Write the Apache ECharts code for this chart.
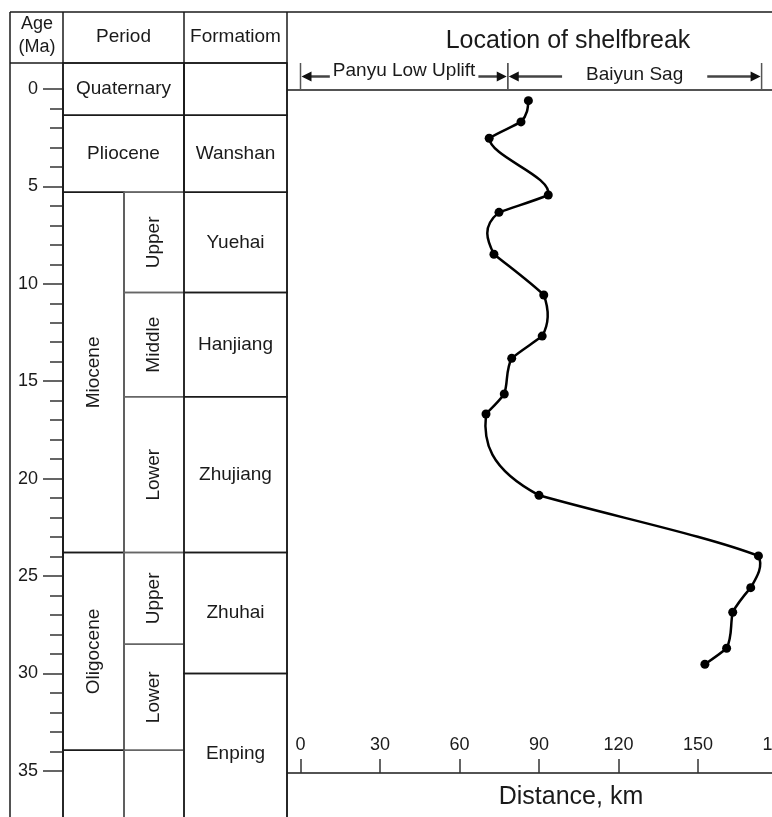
<!DOCTYPE html>
<html>
<head>
<meta charset="utf-8">
<script src="https://cdn.jsdelivr.net/npm/echarts@6/dist/echarts.min.js"></script>
<style>
html, body { margin: 0; padding: 0; background: #fff; }
#chart { width: 772px; height: 817px; }
</style>
</head>
<body>
<div id="chart"></div>
<script>
// Shelfbreak position through time: age (Ma) against distance (km)
const ageMa = [0.60, 1.69, 2.53, 5.44, 6.33, 8.48, 10.57, 12.68, 13.82, 15.65, 16.68, 20.85, 23.96, 25.59, 26.85, 28.70, 29.52];
const distanceKm = [86.0, 83.2, 71.2, 93.5, 74.9, 73.0, 91.8, 91.2, 79.7, 76.9, 70.0, 90.0, 172.8, 169.9, 163.1, 160.8, 152.6];

// Axis ranges [min, max, step]
const distanceRange = [0, 180, 30];
const ageRange = [0, 35, 5];

// Chronostratigraphy (base ages in Ma)
const periodNames = ['Quaternary', 'Pliocene', 'Miocene', 'Oligocene'];
const periodBase = [1.35, 5.3, 23.8, 33.95];
const epochNames = ['Upper', 'Middle', 'Lower', 'Upper', 'Lower'];
const epochPeriod = [2, 2, 2, 3, 3];
const epochBase = [10.45, 15.8, 23.8, 28.5, 33.95];
const formationNames = ['', 'Wanshan', 'Yuehai', 'Hanjiang', 'Zhujiang', 'Zhuhai', 'Enping'];
const formationBase = [1.35, 5.3, 10.45, 15.8, 23.8, 30.0, 38.2];

// Structural units crossed by the profile (km)
const regionNames = ['Panyu Low Uplift', 'Baiyun Sag'];
const regionStartKm = [0, 78.2];
const regionEndKm = [78.2, 174];

// ---- layout ----
const FONT = '"Liberation Sans", Arial, sans-serif';
const INK = '#1a1a1a';
const W = 772, H = 817;
const FRAME_L = 10, AGE_R = 63, SUB_X = 124, PERIOD_R = 184, FORM_R = 287;
const TOP = 12, HEAD_B = 63;
const PLOT_TOP = 89, AXIS_Y = 773, BAND_Y = 90;
const AGE_AXIS_BOTTOM = 770.8;
const TEXT_SIZE = 19;
const regionLabelY = [71, 75];
const regionTextGap = [3, 24];
const CURVE_TENSION = 0.45; // weight of the spline slope against the segment's own chord

// Build column cells from the stratigraphic arrays
const cells = [];
periodNames.forEach((name, i) => {
  const top = i === 0 ? null : periodBase[i - 1];
  const split = epochPeriod.indexOf(i) >= 0;
  cells.push({ x0: AGE_R, x1: split ? SUB_X : PERIOD_R, top, base: periodBase[i], name, rotate: split, stroke: INK });
});
epochNames.forEach((name, i) => {
  const p = epochPeriod[i];
  const top = (i > 0 && epochPeriod[i - 1] === p) ? epochBase[i - 1] : periodBase[p - 1];
  cells.push({ x0: SUB_X, x1: PERIOD_R, top, base: epochBase[i], name, rotate: true, stroke: '#666' });
});
// interval below the oldest period
const oldest = periodBase[periodBase.length - 1];
cells.push({ x0: AGE_R, x1: SUB_X, top: oldest, base: null, name: '', rotate: false, stroke: INK });
cells.push({ x0: SUB_X, x1: PERIOD_R, top: oldest, base: null, name: '', rotate: false, stroke: '#666' });
formationNames.forEach((name, i) => {
  const top = i === 0 ? null : formationBase[i - 1];
  cells.push({ x0: PERIOD_R, x1: FORM_R, top, base: formationBase[i], name, rotate: false, stroke: INK });
});

const measureCtx = document.createElement('canvas').getContext('2d');
function textWidth(str, size) {
  measureCtx.font = size + 'px ' + FONT;
  return measureCtx.measureText(str).width;
}

// Natural cubic spline slopes dx/dy at every knot (pixel space, x as a function of y).
function splineSlopes(pts) {
  const n = pts.length;
  const h = [], M = new Array(n).fill(0);
  for (let i = 0; i < n - 1; i++) h.push(pts[i + 1][1] - pts[i][1]);
  const a = [], b = [], c = [], d = [];
  for (let i = 1; i < n - 1; i++) {
    a.push(h[i - 1]);
    b.push(2 * (h[i - 1] + h[i]));
    c.push(h[i]);
    d.push(6 * ((pts[i + 1][0] - pts[i][0]) / h[i] - (pts[i][0] - pts[i - 1][0]) / h[i - 1]));
  }
  const m = b.length;
  for (let i = 1; i < m; i++) {
    const w = a[i] / b[i - 1];
    b[i] -= w * c[i - 1];
    d[i] -= w * d[i - 1];
  }
  const sol = new Array(m);
  for (let i = m - 1; i >= 0; i--) sol[i] = (d[i] - (i < m - 1 ? c[i] * sol[i + 1] : 0)) / b[i];
  for (let i = 0; i < m; i++) M[i + 1] = sol[i];
  const k = h.map((hh, i) => (pts[i + 1][0] - pts[i][0]) / hh);
  const slopes = [];
  for (let i = 0; i < n; i++) {
    slopes.push(i < n - 1 ? k[i] - h[i] * (2 * M[i] + M[i + 1]) / 6 : k[i - 1] + h[i - 1] * (M[i - 1] + 2 * M[i]) / 6);
  }
  return { slopes, chords: k };
}

function line(x1, y1, x2, y2, color, width) {
  return { type: 'line', shape: { x1, y1, x2, y2 }, style: { stroke: color || INK, lineWidth: width || 1.5 }, silent: true };
}
function label(text, x, y, size) {
  return {
    type: 'text', x, y, silent: true,
    style: { text, fill: INK, font: size + 'px ' + FONT, align: 'center', verticalAlign: 'middle' }
  };
}

const points = ageMa.map((a, i) => [distanceKm[i], a]);

const chart = echarts.init(document.getElementById('chart'), null, { renderer: 'canvas' });

chart.setOption({
  animation: false,
  backgroundColor: '#fff',
  textStyle: { fontFamily: FONT, color: INK },
  grid: [
    { left: 300.5, right: -5.5, top: PLOT_TOP, bottom: H - AXIS_Y, containLabel: false, outerBoundsMode: 'none' },
    { left: AGE_R, width: 1, top: PLOT_TOP, bottom: H - AGE_AXIS_BOTTOM, containLabel: false, outerBoundsMode: 'none' }
  ],
  xAxis: [
    {
      gridIndex: 0, type: 'value',
      min: distanceRange[0], max: distanceRange[1], interval: distanceRange[2],
      axisLine: { show: false, onZero: false },
      axisTick: { show: true, inside: true, length: 14, lineStyle: { color: '#333', width: 1.5 } },
      axisLabel: { inside: true, margin: 19, fontSize: 18, color: INK, fontFamily: FONT, hideOverlap: false },
      splitLine: { show: false },
      name: 'Distance, km', nameLocation: 'middle', nameGap: 12,
      nameTextStyle: { fontSize: 25, color: INK, fontFamily: FONT, padding: [0, 0, 0, 64] }
    },
    { gridIndex: 1, type: 'value', min: 0, max: 1, show: false }
  ],
  yAxis: [
    { gridIndex: 0, type: 'value', inverse: true, min: 0, max: 35.1, show: false },
    {
      gridIndex: 1, type: 'value', inverse: true,
      min: ageRange[0], max: ageRange[1], interval: ageRange[2],
      axisLine: { show: true, onZero: false, lineStyle: { color: INK, width: 1.5 } },
      axisTick: { show: true, length: 20, lineStyle: { color: '#333', width: 1.5 } },
      minorTick: { show: true, splitNumber: 5, length: 13, lineStyle: { color: '#333', width: 1.5 } },
      axisLabel: { margin: 25, fontSize: 18, color: INK, fontFamily: FONT },
      splitLine: { show: false },
      minorSplitLine: { show: false }
    }
  ],
  graphic: [
    // outer frame and column separators
    line(FRAME_L, TOP, W, TOP),
    line(FRAME_L, TOP, FRAME_L, H),
    line(AGE_R, TOP, AGE_R, H),
    line(PERIOD_R, TOP, PERIOD_R, H),
    line(FORM_R, TOP, FORM_R, H),
    line(FRAME_L, HEAD_B, FORM_R, HEAD_B),
    line(FORM_R, BAND_Y, W, BAND_Y),
    line(FORM_R, AXIS_Y, W, AXIS_Y),
    // column headers
    label('Age', 37, 24, 18),
    label('(Ma)', 37, 47, 18),
    label('Period', (AGE_R + PERIOD_R) / 2, 37, TEXT_SIZE),
    label('Formatiom', (PERIOD_R + FORM_R) / 2, 37, TEXT_SIZE),
    label('Location of shelfbreak', 568, 41, 25)
  ],
  series: [
    {
      type: 'custom',
      xAxisIndex: 1, yAxisIndex: 1,
      silent: true,
      data: cells.map((c, i) => [0, i]),
      renderItem: (params, api) => {
        const c = cells[params.dataIndex];
        const y0 = c.top == null ? HEAD_B : api.coord([0, c.top])[1];
        const y1 = c.base == null ? H + 20 : api.coord([0, c.base])[1];
        const children = [{
          type: 'rect',
          shape: { x: c.x0, y: y0, width: c.x1 - c.x0, height: y1 - y0 },
          style: { fill: null, stroke: c.stroke, lineWidth: 1.5 }
        }];
        if (c.name) {
          children.push({
            type: 'text', x: (c.x0 + c.x1) / 2, y: (y0 + y1) / 2,
            rotation: c.rotate ? Math.PI / 2 : 0,
            style: { text: c.name, fill: INK, font: TEXT_SIZE + 'px ' + FONT, align: 'center', verticalAlign: 'middle' }
          });
        }
        return { type: 'group', children };
      },
      z: 1
    },
    {
      type: 'custom',
      xAxisIndex: 0, yAxisIndex: 0,
      silent: true,
      data: regionNames.map((n, i) => [regionStartKm[i], regionEndKm[i]]),
      renderItem: (params, api) => {
        const i = params.dataIndex;
        const xa = api.coord([regionStartKm[i], 0])[0];
        const xb = api.coord([regionEndKm[i], 0])[0];
        const ay = 76.5;
        const mid = (xa + xb) / 2;
        const half = textWidth(regionNames[i], TEXT_SIZE) / 2 + regionTextGap[i];
        const stroke = { stroke: '#444', lineWidth: 2.5 };
        return {
          type: 'group',
          children: [
            { type: 'line', shape: { x1: xa, y1: 63, x2: xa, y2: BAND_Y }, style: { stroke: '#555', lineWidth: 1.5 } },
            { type: 'line', shape: { x1: xb, y1: 63, x2: xb, y2: BAND_Y }, style: { stroke: '#555', lineWidth: 1.5 } },
            { type: 'line', shape: { x1: xa + 4, y1: ay, x2: mid - half, y2: ay }, style: stroke },
            { type: 'line', shape: { x1: mid + half, y1: ay, x2: xb - 4, y2: ay }, style: stroke },
            { type: 'polygon', shape: { points: [[xa + 1, ay], [xa + 11, ay - 5], [xa + 11, ay + 5]] }, style: { fill: '#111' } },
            { type: 'polygon', shape: { points: [[xb - 1, ay], [xb - 11, ay - 5], [xb - 11, ay + 5]] }, style: { fill: '#111' } },
            {
              type: 'text', x: mid, y: regionLabelY[i],
              style: { text: regionNames[i], fill: INK, font: TEXT_SIZE + 'px ' + FONT, align: 'center', verticalAlign: 'middle' }
            }
          ]
        };
      },
      z: 2
    },
    {
      // smooth trend through the shelfbreak positions
      type: 'custom',
      xAxisIndex: 0, yAxisIndex: 0,
      silent: true,
      data: points,
      renderItem: (params, api) => {
        const i = params.dataIndex;
        if (i >= points.length - 1) return null;
        const px = points.map(p => api.coord(p));
        const sp = splineSlopes(px);
        const own = sp.chords[i];
        const s0 = CURVE_TENSION * sp.slopes[i] + (1 - CURVE_TENSION) * own;
        const s1 = CURVE_TENSION * sp.slopes[i + 1] + (1 - CURVE_TENSION) * own;
        const p0 = px[i], p1 = px[i + 1];
        const h = p1[1] - p0[1];
        return {
          type: 'bezierCurve',
          shape: {
            x1: p0[0], y1: p0[1], x2: p1[0], y2: p1[1],
            cpx1: p0[0] + s0 * h / 3, cpy1: p0[1] + h / 3,
            cpx2: p1[0] - s1 * h / 3, cpy2: p1[1] - h / 3
          },
          style: { stroke: '#000', lineWidth: 2.5, fill: null, lineCap: 'round' }
        };
      },
      z: 3
    },
    {
      type: 'scatter',
      xAxisIndex: 0, yAxisIndex: 0,
      data: points,
      symbol: 'circle',
      symbolSize: 9,
      itemStyle: { color: '#000', opacity: 1 },
      silent: true,
      z: 4
    }
  ]
});
</script>
</body>
</html>
